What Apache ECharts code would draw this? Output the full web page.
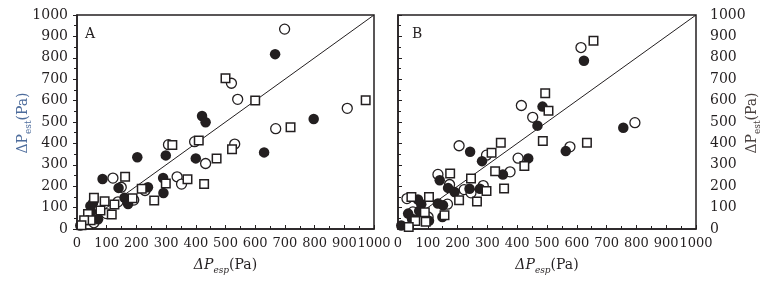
<!DOCTYPE html>
<html>
<head>
<meta charset="utf-8">
<script src="https://cdn.jsdelivr.net/npm/echarts@6/dist/echarts.min.js"></script>
<style>
  html, body { margin: 0; padding: 0; background: #fff; }
  #chart { width: 784px; height: 285px; }
</style>
</head>
<body>
<div id="chart"></div>
<script>
// panel A: [ΔPesp, ΔPest]
const aFilled = [[667,817],[797,514],[630,358],[421,528],[433,499],[299,344],[203,335],[400,330],[86,234],[290,238],[140,192],[239,195],[291,168],[160,146],[172,117],[54,122],[45,108],[48,80],[71,45],[11,16]];
const aOpen = [[699,934],[520,681],[541,606],[910,564],[669,469],[531,397],[396,408],[308,394],[433,306],[337,244],[352,210],[121,238],[149,195],[229,180],[191,135],[138,127],[57,29],[99,72]];
const aSquare = [[500,705],[600,600],[972,602],[719,475],[410,414],[321,392],[522,373],[470,329],[428,210],[372,232],[299,213],[162,244],[218,188],[260,133],[187,144],[126,115],[117,68],[93,130],[79,86],[57,146],[37,70],[46,41],[24,41],[15,18]];
// panel B
const bFilled = [[624,786],[756,473],[485,572],[468,483],[563,364],[437,330],[352,255],[282,317],[242,361],[140,228],[168,192],[190,173],[240,188],[275,188],[134,119],[151,111],[67,138],[78,116],[71,84],[34,72],[149,56],[104,38],[11,16],[47,48]];
const bOpen = [[614,848],[795,497],[452,522],[414,577],[577,384],[403,331],[376,267],[297,345],[205,389],[134,255],[173,208],[222,184],[245,169],[286,203],[166,116],[30,142],[50,80],[101,56]];
const bSquare = [[656,880],[494,634],[505,552],[486,411],[634,403],[424,294],[345,403],[314,356],[326,270],[356,189],[297,178],[265,128],[245,236],[205,134],[175,259],[156,64],[104,150],[90,78],[93,34],[58,37],[45,150],[36,9]];
const diag = [[0,0],[1000,1000]];
const panels = ['A', 'B'];

const ink = '#231f20';
const serif = 'DejaVu Serif';

var myChart = echarts.init(document.getElementById('chart'));

function xAxis(i) {
  return {
    gridIndex: i, type: 'value', min: 0, max: 1000, interval: 100,
    name: '{i|ΔP}{s|esp}{a|(Pa)}', nameLocation: 'middle', nameGap: 26,
    nameTextStyle: {
      rich: {
        i: { fontFamily: serif, fontSize: 14, fontStyle: 'italic', color: ink, lineHeight: 20 },
        s: { fontFamily: serif, fontSize: 9, fontStyle: 'italic', color: ink, verticalAlign: 'bottom', lineHeight: 12 },
        a: { fontFamily: serif, fontSize: 14, color: ink, lineHeight: 20 }
      }
    },
    axisLine: { lineStyle: { color: ink, width: 1.5 } },
    axisTick: { inside: true, length: 4, lineStyle: { color: ink } },
    minorTick: { show: true, splitNumber: 2, length: 3, lineStyle: { color: ink } },
    axisLabel: { fontFamily: serif, fontSize: 13, color: ink, margin: 8, formatter: v => String(v) },
    splitLine: { show: false }
  };
}

function yAxis(i, pos, margin) {
  return {
    gridIndex: i, type: 'value', min: 0, max: 1000, interval: 100, position: pos,
    axisLine: { show: true, lineStyle: { color: ink, width: 1.5 } },
    axisTick: { inside: false, length: 4, lineStyle: { color: ink } },
    minorTick: { show: true, splitNumber: 2, length: 3, lineStyle: { color: ink } },
    axisLabel: { fontFamily: serif, fontSize: 14, color: ink, margin: margin, formatter: v => String(v) },
    splitLine: { show: false }
  };
}

function yName(x, color) {
  return {
    type: 'text', x: x, y: 123, rotation: Math.PI / 2,
    style: {
      text: '{a|ΔP}{s|est}{a|(Pa)}', align: 'center', verticalAlign: 'middle',
      rich: {
        a: { fontFamily: serif, fontSize: 14, fill: color, lineHeight: 20 },
        s: { fontFamily: serif, fontSize: 9, fill: color, verticalAlign: 'bottom', lineHeight: 12 }
      }
    }
  };
}

function marks(i, filled, open, square) {
  return [
    { type: 'line', xAxisIndex: i, yAxisIndex: i, data: diag, symbol: 'none',
      lineStyle: { color: ink, width: 1 }, silent: true, z: 1 },
    { type: 'scatter', xAxisIndex: i, yAxisIndex: i, data: open, symbol: 'circle', symbolSize: 10,
      itemStyle: { color: '#fff', borderColor: ink, borderWidth: 1.3, opacity: 1 }, z: 2 },
    { type: 'scatter', xAxisIndex: i, yAxisIndex: i, data: filled, symbol: 'circle', symbolSize: 10.5,
      itemStyle: { color: ink, borderColor: ink, borderWidth: 0, opacity: 1 }, z: 3 },
    { type: 'scatter', xAxisIndex: i, yAxisIndex: i, data: square, symbol: 'rect', symbolSize: 8.5,
      itemStyle: { color: '#fff', borderColor: ink, borderWidth: 1.5, opacity: 1 }, z: 4 }
  ];
}

var option = {
  animation: false,
  title: [
    { text: panels[0], left: 80, top: 22, textStyle: { fontFamily: serif, fontSize: 14, fontWeight: 'normal', color: ink } },
    { text: panels[1], left: 407, top: 22, textStyle: { fontFamily: serif, fontSize: 14, fontWeight: 'normal', color: ink } }
  ],
  grid: [
    { left: 77, top: 15, width: 297, height: 214, show: true, borderColor: ink, borderWidth: 1.5 },
    { left: 398, top: 15, width: 298, height: 214, show: true, borderColor: ink, borderWidth: 1.5 }
  ],
  graphic: [yName(23, '#4d6c9c'), yName(752, '#4a4240')],
  xAxis: [xAxis(0), xAxis(1)],
  yAxis: [yAxis(0, 'left', 9), yAxis(1, 'right', 14)],
  series: marks(0, aFilled, aOpen, aSquare).concat(marks(1, bFilled, bOpen, bSquare))
};

option && myChart.setOption(option);
</script>
</body>
</html>
